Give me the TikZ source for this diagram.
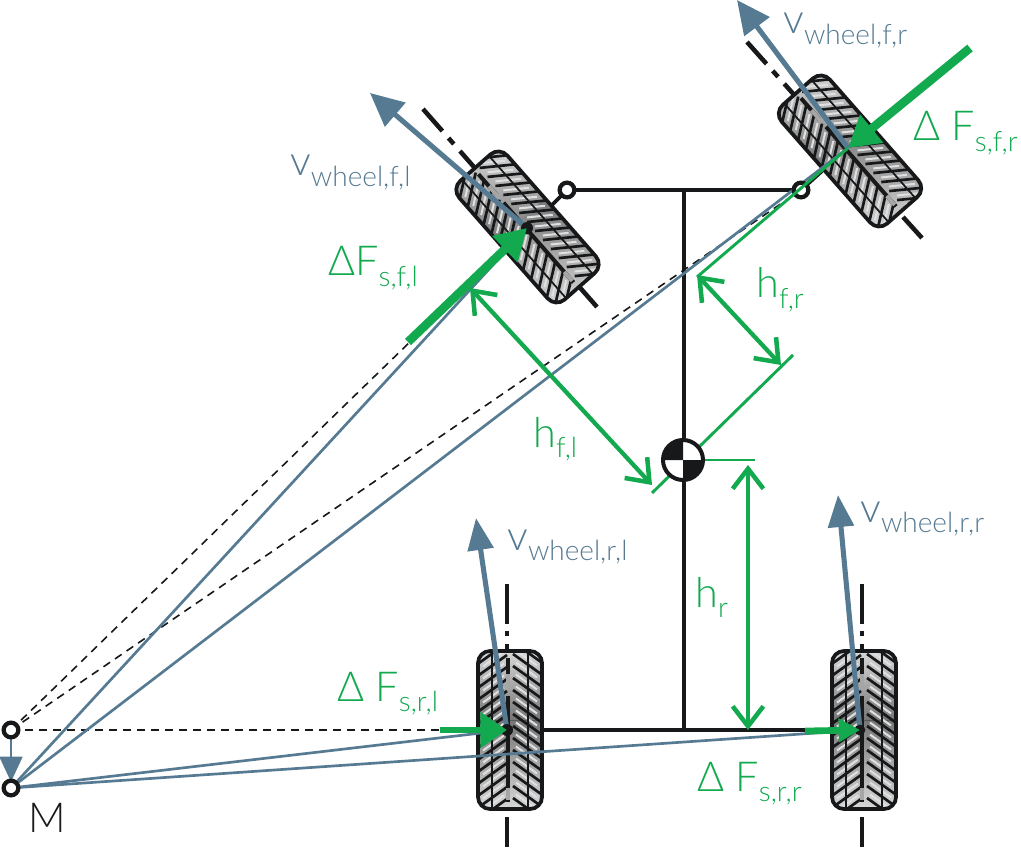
\documentclass[tikz,border=0pt]{standalone}
\usepackage{fontspec}
\setmainfont{Lato Light}
\usetikzlibrary{arrows.meta}
\definecolor{bluec}{HTML}{557A92}
\definecolor{greenc}{HTML}{13A94F}
\definecolor{blackc}{HTML}{16181A}
\tikzset{
 blueline/.style={draw=bluec,line width=2pt},
 bluearrow/.style={draw=bluec,fill=bluec,line width=3.8pt,-{Triangle[length=25pt,width=23pt]}},
 frame/.style={draw=blackc,line width=2.9pt},
 dashline/.style={draw=blackc,line width=1.2pt,dash pattern=on 6pt off 4.5pt},
 axisline/.style={draw=blackc,line width=3.4pt},
 greenthin/.style={draw=greenc,line width=2.2pt},
 greenforce/.style={draw=greenc,line width=6.5pt,-{Triangle[length=23pt,width=26pt]}},
 greendim/.style={draw=greenc,line width=3.2pt,{Straight Barb[length=15pt,width=23pt,line width=3.4pt]}-{Straight Barb[length=15pt,width=23pt,line width=3.4pt]}},
 pivot/.style={circle,draw=blackc,fill=white,line width=3.2pt,minimum size=11pt,inner sep=0pt},
 lbl/.style={anchor=base west,inner sep=0pt,font=\fontsize{31}{32}\selectfont},
 bluelbl/.style={lbl,text=bluec},
 greenlbl/.style={lbl,text=greenc},
}
\newcommand\subs[1]{\raisebox{-8pt}{\fontsize{21}{22}\selectfont #1}}
\newcommand\tire[3]{%
 \begin{scope}[shift={(#1,#2)},rotate=#3]
  \fill[gray!55,rounded corners=9pt] (-32,-79) rectangle (32,79);
  \begin{scope}
   \clip[rounded corners=9pt] (-32,-79) rectangle (32,79);
   \shade[top color=black!5,bottom color=black!75,opacity=.55] (-32,-79) rectangle (32,-10);
   \shade[top color=black!75,bottom color=black!5,opacity=.55] (-32,-10) rectangle (32,79);
   \foreach \v in {-104,-92,...,104} {
     \draw[blackc,line width=2pt] (-31,\v+13) -- (-3,\v-7);
     \draw[blackc,line width=2pt] (3,\v-8) -- (31,\v+12);
     \draw[white!88!black,line width=1.5pt] (-27,\v+16.5) -- (-6,\v+1.5);
     \draw[white!88!black,line width=1.5pt] (6,\v+0.5) -- (27,\v+15.5);
   }
   \draw[blackc,line width=1.3pt] (-18,-79) -- (-18,79) (18,-79) -- (18,79);
   \draw[black!90,line width=3pt] (-2,-72) -- (-2,-44) (-2,-34) -- (-2,72);
   \fill[white!65!black] (-4,-56) rectangle (0,-40);
   \fill[white!65!black] (-4,58) rectangle (0,70);
  \end{scope}
  \draw[blackc,line width=2.8pt,rounded corners=9pt] (-32,-79) rectangle (32,79);
 \end{scope}}
\begin{document}
\begin{tikzpicture}[x=0.75pt,y=-0.75pt]
\useasboundingbox (0,0) rectangle (1021,848);
% points
\coordinate (M0) at (11,730);
\coordinate (Mp) at (11,788);
\coordinate (FL) at (527,228);
\coordinate (FR) at (848,148);
\coordinate (RL) at (507,730);
\coordinate (RR) at (860,730);
\coordinate (KL) at (567,190);
\coordinate (KR) at (801,190);
\coordinate (LL) at (548,209);
\coordinate (LR) at (822,171);
\coordinate (Top) at (684,190);
\coordinate (Bot) at (684,730);
\coordinate (Cg) at (683,460);
% axes
\coordinate (a1s) at (423,109); \coordinate (a1e) at (597,307);
\draw[axisline,dash pattern=on 22pt off 7pt on 6pt off 7pt on 300pt] (a1s) -- (a1e);
\coordinate (a2s) at (747,42); \coordinate (a2m) at (895,208); \coordinate (a2n) at (903,217); \coordinate (a2e) at (922,238);
\draw[axisline,dash pattern=on 22pt off 7pt on 6pt off 7pt on 300pt] (a2s) -- (a2m);
\draw[axisline] (a2n) -- (a2e);
\coordinate (a3s) at (507,584); \coordinate (a3m) at (507,700); \coordinate (a3n) at (507,817); \coordinate (a3e) at (507,847);
\draw[axisline,dash pattern=on 30pt off 5pt on 4pt off 6pt on 300pt] (a3s) -- (a3m);
\draw[axisline] (a3n) -- (a3e);
\coordinate (a4s) at (862,584); \coordinate (a4m) at (862,700); \coordinate (a4n) at (862,817); \coordinate (a4e) at (862,847);
\draw[axisline,dash pattern=on 30pt off 5pt on 4pt off 6pt on 300pt] (a4s) -- (a4m);
\draw[axisline] (a4n) -- (a4e);
% frame
\draw[frame] (KL) -- (KR);
\draw[frame] (KL) -- (LL);
\draw[frame] (KR) -- (LR);
\draw[frame] (Top) -- (Bot);
\draw[frame] (RL) -- (RR);
% tires
\tire{527.5}{227}{41.3}
\tire{850}{151}{41.3}
\tire{510}{730}{0}
\tire{864}{730}{0}
% dashed lines
\draw[dashline] (M0) -- (FL);
\draw[dashline] (M0) -- (KR);
\draw[dashline] (M0) -- (RL);
% blue lines
\draw[blueline] (Mp) -- (FL);
\draw[blueline] (Mp) -- (FR);
\draw[blueline] (Mp) -- (RL);
\draw[blueline] (Mp) -- (RR);
% wheel velocity
\coordinate (vFL) at (370,93);
\coordinate (vFR) at (737,0);
\coordinate (vRL) at (476,518);
\coordinate (vRR) at (838,495);
\draw[bluearrow] (FL) -- (vFL);
\draw[bluearrow] (FR) -- (vFR);
\draw[bluearrow,-{Triangle[length=24pt,width=19pt]}] (RL) -- (vRL);
\draw[bluearrow,-{Triangle[length=24pt,width=19pt]}] (RR) -- (vRR);
\coordinate (Mq) at (11,782);
\draw[draw=bluec,fill=bluec,line width=2.2pt,-{Triangle[length=19pt,width=17pt]}] (M0) -- (Mq);
% hub dots
\fill[blackc] (FL) circle (4.5pt) (RL) circle (4.5pt) (RR) circle (4pt);
% pivots
\node[pivot] (pM0) at (M0) {};
\node[pivot] (pM) at (Mp) {};
\node[pivot] (pKL) at (KL) {};
\node[pivot] (pKR) at (KR) {};
% green lines
\coordinate (Fe) at (697,277);
\coordinate (g1) at (793,355);
\coordinate (g2) at (652,493);
\coordinate (g3) at (755,460);
\coordinate (hfrA) at (697,275);
\coordinate (hfrB) at (781,365);
\coordinate (hflA) at (470,288);
\coordinate (hflB) at (652,485);
\coordinate (hrA) at (748,465);
\coordinate (hrB) at (748,730);
\draw[greenthin] (FR) -- (Fe);
\draw[greenthin] (g1) -- (g2);
\draw[greenthin] (Cg) -- (g3);
\draw[greendim] (hfrA) -- (hfrB);
\draw[greendim] (hflA) -- (hflB);
\draw[greendim] (hrA) -- (hrB);
% green forces
\coordinate (fFL) at (408,342);
\coordinate (fFR) at (970,48);
\coordinate (fRL) at (440,730);
\coordinate (fRR) at (805,731);
\draw[greenforce] (fFL) -- (FL);
\draw[greenforce] (fFR) -- (FR);
\draw[greenforce,line width=5pt,-{Triangle[length=20pt,width=26pt]}] (fRL) -- (RL);
\draw[greenforce,line width=5pt,-{Triangle[length=16pt,width=17pt]}] (fRR) -- (RR);
% centre of gravity
\node[circle,draw=blackc,fill=white,line width=3pt,minimum size=30pt,inner sep=0pt] (cog) at (Cg) {};
\fill[blackc] (Cg) -- ++(-19,0) arc[start angle=180,end angle=90,radius=14.25pt] -- cycle;
\fill[blackc] (Cg) -- ++(19,0) arc[start angle=0,end angle=-90,radius=14.25pt] -- cycle;
% labels
\node[bluelbl] (t1) at (290,176) {v\subs{wheel,f,l}};
\node[bluelbl] (t2) at (783,34) {v\subs{wheel,f,r}};
\node[bluelbl] (t3) at (507,550) {v\subs{wheel,r,l}};
\node[bluelbl] (t4) at (860,522) {v\subs{wheel,r,r}};
\node[greenlbl] (t5) at (913,141) {Δ F\subs{s,f,r}};
\node[greenlbl] (t6) at (328,276) {ΔF\subs{s,f,l}};
\node[greenlbl] (t7) at (337,701) {Δ F\subs{s,r,l}};
\node[greenlbl] (t8) at (697,791) {Δ F\subs{s,r,r}};
\node[greenlbl] (t9) at (756,298) {h\subs{f,r}};
\node[greenlbl] (t10) at (533,447) {h\subs{f,l}};
\node[greenlbl] (t11) at (695,607) {h\subs{r}};
\node[lbl,text=blackc] (t12) at (28,832) {M};
\end{tikzpicture}
\end{document}
